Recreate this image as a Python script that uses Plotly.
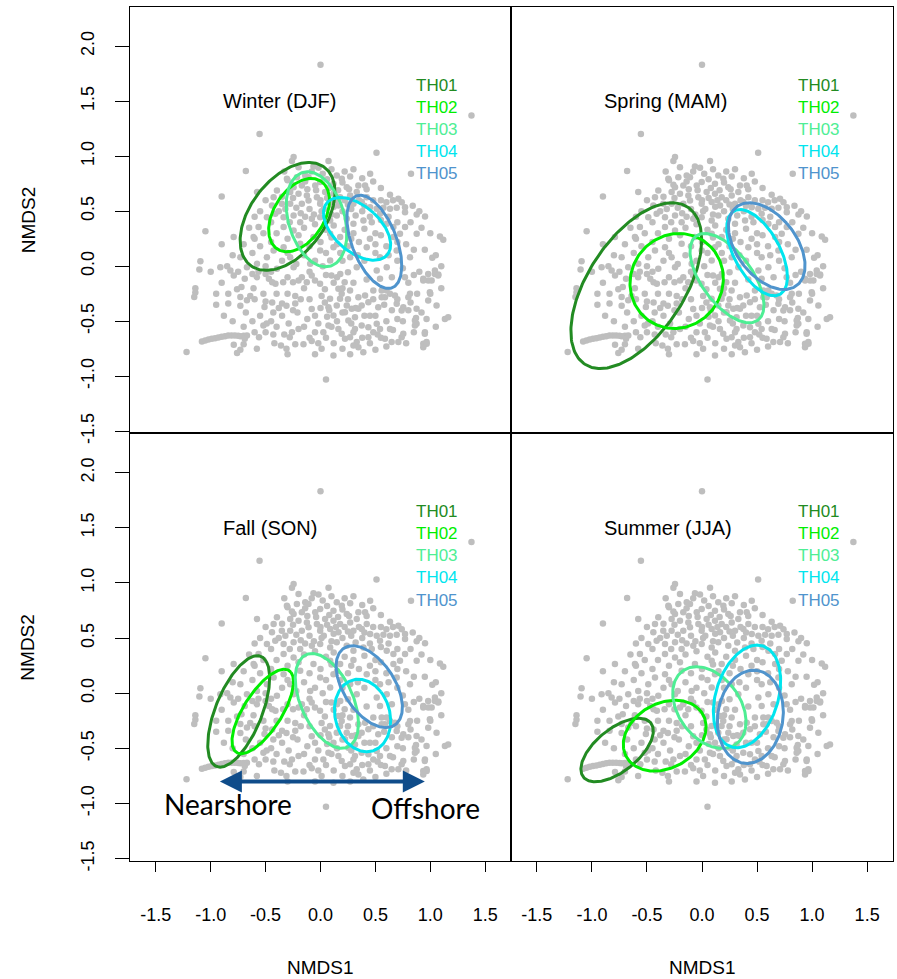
import numpy as np
import plotly.graph_objects as go

# ---------------- data ----------------
stations = ["TH01", "TH02", "TH03", "TH04", "TH05"]
station_colors = ["#228B22", "#00EE00", "#4EEE94", "#00E5EE", "#4F94CD"]
seasons = ["Winter (DJF)", "Spring (MAM)", "Fall (SON)", "Summer (JJA)"]
tick_vals = [-1.5, -1.0, -0.5, 0.0, 0.5, 1.0, 1.5, 2.0]
x_tick_vals = [-1.5, -1.0, -0.5, 0.0, 0.5, 1.0, 1.5]

# NMDS site scores (same ordination shown in every panel)
pts = [
    (0.0, 1.83), (1.375, 1.37), (-0.555, 1.2), (0.51, 1.03), (0.824, 0.839), (-0.68, 0.864),
    (-0.9, 0.633), (-1.048, 0.318), (-1.22, -0.78), (0.05, -1.03),
    (-0.245, 0.991), (-0.26, 0.955), (0.073, 0.955), (-0.064, 0.906), (-0.018, 0.894),
    (-0.306, 0.794), (-0.215, 0.809), (-0.139, 0.824), (-0.109, 0.809), (0.148, 0.824),
    (0.194, 0.794), (0.27, 0.815), (0.452, 0.839), (0.406, 0.733), (0.345, 0.733),
    (0.239, 0.718), (0.118, 0.748), (-0.003, 0.764), (-0.048, 0.733), (-0.17, 0.733),
    (-0.245, 0.718), (-0.397, 0.688), (-0.427, 0.627), (-0.276, 0.673), (-0.2, 0.658),
    (-0.124, 0.642), (-0.033, 0.627), (0.042, 0.673), (0.118, 0.658), (0.179, 0.627),
    (0.27, 0.642), (0.33, 0.673), (0.421, 0.627), (0.633, 0.648), (0.709, 0.612),
    (-0.579, 0.673), (-0.442, 0.552), (-0.352, 0.567), (-0.276, 0.567), (-0.17, 0.567),
    (-0.109, 0.597), (-0.003, 0.567), (0.088, 0.582), (0.164, 0.552), (0.3, 0.567),
    (0.376, 0.582), (0.452, 0.536), (0.512, 0.521), (0.573, 0.53), (0.633, 0.521),
    (0.694, 0.53), (0.77, 0.536), (0.77, 0.491), (0.542, 0.476), (0.876, 0.47),
    (0.952, 0.452), (-0.488, 0.445), (-0.412, 0.476), (-0.336, 0.445), (-0.245, 0.461),
    (-0.185, 0.4), (-0.079, 0.43), (-0.003, 0.445), (0.088, 0.415), (0.148, 0.461),
    (0.239, 0.43), (0.3, 0.385), (0.391, 0.415), (0.467, 0.4), (0.603, 0.385),
    (0.664, 0.355), (0.724, 0.294), (0.77, 0.355), (-0.564, 0.355), (-0.609, 0.264),
    (-0.791, 0.264), (-0.336, 0.355), (-0.245, 0.324), (-0.064, 0.264), (0.088, 0.294),
    (0.179, 0.264), (0.664, 0.264), (1.088, 0.27), (1.118, 0.239), (0.876, 0.294),
    (-1.094, 0.045), (-1.103, -0.03), (-0.821, -0.039), (-0.67, -0.009), (-0.579, 0.021),
    (-0.488, 0.082), (-0.427, 0.142), (-0.336, 0.173), (-0.276, 0.082), (-0.185, 0.203),
    (-0.003, 0.142), (0.088, 0.052), (0.118, 0.173), (0.27, 0.082), (0.421, 0.173),
    (0.542, 0.082), (0.603, -0.009), (0.815, 0.082), (1.018, 0.076), (1.042, -0.039),
    (1.073, -0.076), (0.936, -0.13), (0.982, -0.13), (-0.73, 0.082), (-0.912, -0.009),
    (0.694, 0.142), (-0.094, 0.021), (0.33, -0.009), (-0.245, -0.009), (-0.397, -0.024),
    (-0.3, 0.78), (-0.25, 0.62), (-0.22, 0.53), (-0.18, 0.48), (-0.12, 0.7), (-0.1, 0.52),
    (-0.06, 0.47), (-0.04, 0.69), (0.0, 0.6), (0.03, 0.52), (0.06, 0.62), (0.08, 0.71),
    (0.1, 0.47), (0.14, 0.6), (0.16, 0.69), (0.2, 0.5), (0.22, 0.6), (0.26, 0.7),
    (0.28, 0.52), (0.32, 0.46), (0.35, 0.6), (0.38, 0.5), (0.42, 0.7), (0.48, 0.6),
    (0.55, 0.6), (-0.35, 0.63), (-0.38, 0.5), (-0.45, 0.4), (-0.28, 0.4), (-0.15, 0.35),
    (-0.05, 0.38), (0.05, 0.33), (0.12, 0.37), (0.22, 0.33), (0.3, 0.3), (0.4, 0.34),
    (0.5, 0.3), (0.55, 0.42), (-0.52, 0.3), (-0.4, 0.3), (-0.3, 0.25), (-0.2, 0.28),
    (0.0, 0.22), (0.15, 0.2), (0.25, 0.18), (0.35, 0.22), (0.5, 0.2), (0.6, 0.18),
    (-0.55, 0.18), (-0.62, 0.12), (-0.5, 0.0), (-0.35, 0.05), (-0.15, 0.1), (-0.05, 0.05),
    (0.05, 0.12), (0.2, 0.05), (0.4, 0.05), (0.5, 0.12), (0.7, 0.05), (0.78, 0.2),
    (0.85, 0.15), (-0.7, 0.2), (-0.8, 0.1), (-0.65, 0.35), (0.9, -0.05),
    (-1.14, -0.2), (-1.14, -0.24), (-1.15, -0.28), (-0.79, -0.085), (-0.84, -0.25),
    (-0.76, -0.21), (-0.72, -0.19), (-0.84, -0.34), (-0.73, -0.28), (-0.67, -0.31),
    (-0.64, -0.27), (-0.73, -0.36), (-0.68, -0.42), (-0.69, -0.115), (-0.62, -0.07),
    (-0.565, -0.05), (-0.61, -0.2), (-0.52, -0.25), (-0.5, -0.32), (-0.51, -0.37),
    (-0.44, -0.33), (-0.41, -0.16), (-0.47, -0.115), (-0.43, -0.42), (-0.35, -0.34),
    (-0.31, -0.36), (-0.34, -0.145), (-0.25, -0.145), (-0.23, -0.27), (-0.23, -0.34),
    (-0.21, -0.42), (-0.29, -0.52), (-0.26, -0.6), (-0.2, -0.57), (-0.28, -0.645),
    (-0.23, -0.71), (-0.31, -0.75), (-0.155, -0.71), (-0.08, -0.68), (-0.08, -0.39),
    (-0.05, -0.6), (0.026, -0.6), (-0.02, -0.52), (0.01, -0.27), (0.04, -0.33),
    (0.06, -0.46), (0.01, -0.75), (-0.52, -0.54), (-0.49, -0.52), (-0.5, -0.6),
    (-0.56, -0.645), (-0.43, -0.62),
    (-1.08, -0.685), (-1.05, -0.676), (-1.02, -0.667), (-0.99, -0.66), (-0.96, -0.655),
    (-0.93, -0.648), (-0.9, -0.642), (-0.87, -0.636), (-0.84, -0.63), (-0.81, -0.63),
    (-0.78, -0.63), (-0.75, -0.633), (-0.73, -0.636), (-0.7, -0.632), (-0.67, -0.63),
    (-0.69, -0.66), (-0.7, -0.71), (-0.73, -0.76), (-0.76, -0.79), (-0.79, -0.715),
    (-0.58, -0.1), (-0.5, -0.07), (-0.44, -0.145), (-0.3, -0.1), (-0.2, -0.13),
    (-0.17, -0.1), (-0.125, -0.145), (-0.08, -0.085), (-0.05, -0.13), (-0.004, -0.16),
    (0.04, -0.21),
    (0.1, -0.085), (0.18, -0.07), (0.25, -0.055), (0.22, -0.145), (0.163, -0.206),
    (0.193, -0.251), (0.178, -0.297), (0.269, -0.22), (0.345, -0.282), (0.406, -0.267),
    (0.436, -0.327), (0.375, -0.358), (0.526, -0.373), (0.5, -0.45), (0.072, -0.373),
    (0.118, -0.448), (0.072, -0.539), (0.163, -0.57), (0.193, -0.615), (0.223, -0.66),
    (0.269, -0.645), (0.33, -0.69), (0.345, -0.736), (0.39, -0.782), (0.436, -0.645),
    (0.481, -0.6), (0.542, -0.57), (0.587, -0.66), (0.633, -0.57), (0.648, -0.69),
    (0.709, -0.69), (0.739, -0.645), (0.754, -0.615), (0.875, -0.524), (0.86, -0.494),
    (0.966, -0.479), (0.951, -0.6), (0.936, -0.706), (0.966, -0.69), (1.133, -0.479),
    (1.163, -0.464), (1.057, -0.358), (0.981, -0.312), (0.996, -0.236), (0.936, -0.115),
    (0.981, -0.07), (1.042, -0.07), (1.072, -0.085), (1.012, -0.13), (0.815, -0.251),
    (0.8, -0.282), (0.754, -0.373), (0.739, -0.403), (0.694, -0.342), (0.678, -0.267),
    (0.633, -0.251), (0.587, -0.282), (0.557, -0.282), (0.557, -0.221), (0.602, -0.221),
    (0.481, -0.221), (0.542, -0.115), (0.512, -0.04), (0.769, -0.1), (0.875, -0.388),
    (0.118, -0.812), (0.223, -0.418), (0.254, -0.494), (0.314, -0.464), (0.375, -0.539),
    (0.314, -0.57), (0.436, -0.554), (0.512, -0.524), (0.239, -0.358), (0.284, -0.388),
    (0.345, -0.388), (0.087, -0.297), (0.148, -0.358),
    (-0.6, -0.3), (-0.4, -0.25), (-0.35, -0.45), (-0.15, -0.2), (-0.1, -0.3),
    (-0.05, -0.45), (-0.15, -0.55), (-0.4, -0.55), (-0.1, -0.65), (0.1, -0.55),
    (0.12, -0.7), (0.2, -0.75), (0.3, -0.6), (0.45, -0.7), (0.55, -0.65), (0.6, -0.5),
    (0.7, -0.48), (0.65, -0.4), (0.8, -0.4), (0.85, -0.6), (0.5, -0.76), (0.27, -0.8),
    (-0.05, -0.8), (-0.3, -0.8), (-0.42, -0.7), (-0.58, -0.75), (-0.55, -0.45),
    (0.15, -0.1), (0.3, -0.15), (0.42, -0.12), (0.65, -0.1), (0.8, -0.15), (0.88, -0.25),
    (-0.25, -0.4), (0.0, -0.38), (0.25, -0.3), (0.45, -0.45), (0.58, -0.35),
    (-0.95, -0.35), (-0.9, -0.15), (-1.0, -0.05), (1.0, -0.25), (0.87, -0.47),
    (0.86, -0.54), (0.95, -0.615), (0.967, -0.706), (0.936, -0.736),
    (-0.33, 0.86), (-0.2, 0.9), (-0.08, 0.86), (0.02, 0.84), (0.1, 0.88), (0.22, 0.86),
    (0.3, 0.88), (0.38, 0.8), (-0.26, 0.74), (-0.14, 0.77), (0.06, 0.79), (0.2, 0.76),
    (0.48, 0.77), (0.55, 0.71), (0.6, 0.58), (0.66, 0.6), (0.74, 0.58), (0.84, 0.55),
    (0.9, 0.5), (-0.5, 0.6), (-0.55, 0.5), (-0.6, 0.45), (-0.32, 0.52), (-0.14, 0.45),
    (0.01, 0.5), (0.12, 0.54), (0.25, 0.56), (0.4, 0.55), (0.45, 0.45), (0.62, 0.45),
    (0.7, 0.4), (0.82, 0.4), (0.92, 0.35), (1.0, 0.3),
    (-0.9, 0.2), (-0.85, 0.0), (-0.75, -0.05), (-0.6, 0.25), (-0.45, 0.22), (-0.3, 0.12),
    (-0.22, 0.02), (-0.1, 0.18), (0.02, 0.0), (0.1, 0.26), (0.18, 0.12), (0.28, 0.25),
    (0.34, 0.1), (0.45, 0.25), (0.55, 0.28), (0.62, 0.1), (0.7, 0.22), (0.75, -0.02),
    (0.85, -0.08), (0.95, 0.15), (1.05, 0.1), (1.1, 0.0),
    (-0.95, -0.25), (-0.88, -0.45), (-0.8, -0.5), (-0.7, -0.55), (-0.62, -0.5), (-0.6, -0.6),
    (-0.45, -0.5), (-0.38, -0.38), (-0.33, -0.62), (-0.36, -0.72), (-0.18, -0.3),
    (-0.12, -0.48), (-0.02, -0.7), (0.05, -0.65), (0.08, -0.4), (0.15, -0.5), (0.2, -0.42),
    (0.28, -0.52), (0.3, -0.72), (0.38, -0.65), (0.4, -0.45), (0.48, -0.3), (0.52, -0.62),
    (0.6, -0.73), (0.66, -0.58), (0.7, -0.3), (0.75, -0.5), (0.78, -0.7), (0.82, -0.33),
    (0.92, -0.42), (1.1, -0.2), (1.05, -0.55), (0.2, -0.2), (0.32, -0.38), (0.12, -0.15),
    (-0.3, -0.25), (-0.45, -0.05), (-0.1, -0.05), (0.05, -0.08),
]
pts_x = [p[0] for p in pts]
pts_y = [p[1] for p in pts]

# 95% ellipses per season: centre, half-width (x), half-height (y), correlation, order TH01..TH05
winter_cx = [-0.30, -0.195, -0.036, 0.333, 0.49]
winter_cy = [0.452, 0.464, 0.426, 0.339, 0.221]
winter_hw = [0.432, 0.277, 0.276, 0.306, 0.25]
winter_hh = [0.49, 0.333, 0.432, 0.285, 0.424]
winter_r = [0.45, 0.40, -0.30, -0.50, -0.51]

spring_cx = [-0.597, -0.23, 0.227, 0.50, 0.588]
spring_cy = [-0.177, -0.135, -0.109, 0.123, 0.182]
spring_hw = [0.594, 0.424, 0.336, 0.276, 0.348]
spring_hh = [0.753, 0.432, 0.406, 0.392, 0.394]
spring_r = [0.55, 0.05, -0.60, -0.56, -0.45]

fall_cx = [-0.745, -0.526, 0.058, 0.383, 0.444]
fall_cy = [-0.165, -0.165, -0.07, -0.202, 0.059]
fall_hw = [0.282, 0.28, 0.288, 0.256, 0.302]
fall_hh = [0.505, 0.383, 0.43, 0.329, 0.371]
fall_r = [0.60, 0.70, -0.47, -0.15, -0.50]

summer_cx = [-0.771, -0.339, 0.067, 0.409, 0.439]
summer_cy = [-0.515, -0.385, -0.13, -0.029, -0.214]
summer_hw = [0.329, 0.376, 0.333, 0.306, 0.30]
summer_hh = [0.288, 0.321, 0.37, 0.465, 0.423]
summer_r = [0.60, 0.25, -0.35, 0.30, 0.10]

ellipses = [
    (winter_cx, winter_cy, winter_hw, winter_hh, winter_r),
    (spring_cx, spring_cy, spring_hw, spring_hh, spring_r),
    (fall_cx, fall_cy, fall_hw, fall_hh, fall_r),
    (summer_cx, summer_cy, summer_hw, summer_hh, summer_r),
]

arrow_x = [-0.93, 0.95]
arrow_y = -0.80

# ---------------- figure ----------------
K = 991 / 979          # vertical compensation for the capture
W, H = 897, 991
px_l, px_m, px_r = 130, 511, 893
py_t, py_m, py_b = 7 * K, 433 * K, 860 * K
X_RANGE = [-1.735, 1.735]
Y_RANGE = [-1.52, 2.355]
FONT = "Liberation Sans, Arial, sans-serif"
CAL = "Lato, Open Sans, sans-serif"

def dom_x(a, b):
    return [a / W, b / W]

def dom_y(a, b):
    return [1 - b / H, 1 - a / H]

panels = [
    dict(xd=dom_x(px_l, px_m), yd=dom_y(py_t, py_m), left=True, bottom=False),
    dict(xd=dom_x(px_m, px_r), yd=dom_y(py_t, py_m), left=False, bottom=False),
    dict(xd=dom_x(px_l, px_m), yd=dom_y(py_m, py_b), left=True, bottom=True),
    dict(xd=dom_x(px_m, px_r), yd=dom_y(py_m, py_b), left=False, bottom=True),
]

fig = go.Figure()
layout = dict(
    width=W, height=H, margin=dict(l=0, r=0, t=0, b=0),
    paper_bgcolor="white", plot_bgcolor="white", showlegend=False,
    font=dict(family=FONT, color="black"),
)
annotations = []
t = np.linspace(0, 2 * np.pi, 200)

for i, p in enumerate(panels):
    n = "" if i == 0 else str(i + 1)
    xa, ya = "x" + n, "y" + n
    layout["xaxis" + n] = dict(
        domain=p["xd"], range=X_RANGE, anchor=ya, showgrid=False, zeroline=False,
        showline=True, mirror=True, linecolor="black", linewidth=1.2,
        ticks="outside" if p["bottom"] else "", ticklen=10, tickcolor="black", tickwidth=1,
        tickvals=x_tick_vals if p["bottom"] else [], ticktext=[f"{v:.1f}" for v in x_tick_vals] if p["bottom"] else [],
        showticklabels=p["bottom"], tickfont=dict(size=18, family=FONT),
        ticklabelstandoff=27,
    )
    layout["yaxis" + n] = dict(
        domain=p["yd"], range=Y_RANGE, anchor=xa, showgrid=False, zeroline=False,
        showline=True, mirror=True, linecolor="black", linewidth=1.2,
        ticks="outside" if p["left"] else "", ticklen=14, tickcolor="black", tickwidth=1,
        tickvals=tick_vals if p["left"] else [], ticktext=[f"{v:.1f}" for v in tick_vals] if p["left"] else [],
        showticklabels=p["left"], tickangle=-90, tickfont=dict(size=18, family=FONT),
        ticklabelstandoff=14,
    )
    fig.add_trace(go.Scatter(
        x=pts_x, y=pts_y, mode="markers", xaxis=xa, yaxis=ya,
        marker=dict(size=6.5, color="#BEBEBE", line=dict(width=0)), hoverinfo="skip",
    ))
    cx, cy, hw, hh, rr = ellipses[i]
    for k in range(5):
        d = np.arccos(rr[k])
        ex = cx[k] + hw[k] * np.cos(t + d / 2)
        ey = cy[k] + hh[k] * np.cos(t - d / 2)
        fig.add_trace(go.Scatter(
            x=ex, y=ey, mode="lines", xaxis=xa, yaxis=ya,
            line=dict(color=station_colors[k], width=3), hoverinfo="skip",
        ))
    annotations.append(dict(
        x=-0.91, y=1.5, xref=xa, yref=ya, text=seasons[i], showarrow=False,
        xanchor="left", yanchor="middle", font=dict(size=20, family=FONT, color="black"),
    ))
    for k, s in enumerate(stations):
        annotations.append(dict(
            x=0.855, y=1.645 - 0.2 * k, xref=xa, yref=ya, text=s, showarrow=False,
            xanchor="left", yanchor="middle", font=dict(size=17, family=FONT, color=station_colors[k]),
        ))

for yc in [1 - 220 * K / H, 1 - 647 * K / H]:
    annotations.append(dict(
        x=28 / W, y=yc, xref="paper", yref="paper", text="NMDS2", showarrow=False,
        textangle=-90, xanchor="center", yanchor="middle", font=dict(size=19, family=FONT),
    ))
for xc in [320 / W, 702 / W]:
    annotations.append(dict(
        x=xc, y=1 - 967 * K / H, xref="paper", yref="paper", text="NMDS1", showarrow=False,
        xanchor="center", yanchor="middle", font=dict(size=19, family=FONT),
    ))

annotations.append(dict(
    x=arrow_x[1], y=arrow_y, ax=arrow_x[0], ay=arrow_y, xref="x3", yref="y3",
    axref="x3", ayref="y3", text="", showarrow=True, arrowhead=2, startarrowhead=2,
    arrowside="end+start", arrowsize=1.1, startarrowsize=1.1, arrowwidth=4, arrowcolor="#0F4C8A",
))
annotations.append(dict(
    x=-0.84, y=-1.0, xref="x3", yref="y3", text="Nearshore", showarrow=False,
    xanchor="center", yanchor="middle", font=dict(size=28, family=CAL, color="black"),
))
annotations.append(dict(
    x=0.955, y=-1.04, xref="x3", yref="y3", text="Offshore", showarrow=False,
    xanchor="center", yanchor="middle", font=dict(size=28, family=CAL, color="black"),
))

layout["annotations"] = annotations
fig.update_layout(**layout)
fig.write_html("out.html")
